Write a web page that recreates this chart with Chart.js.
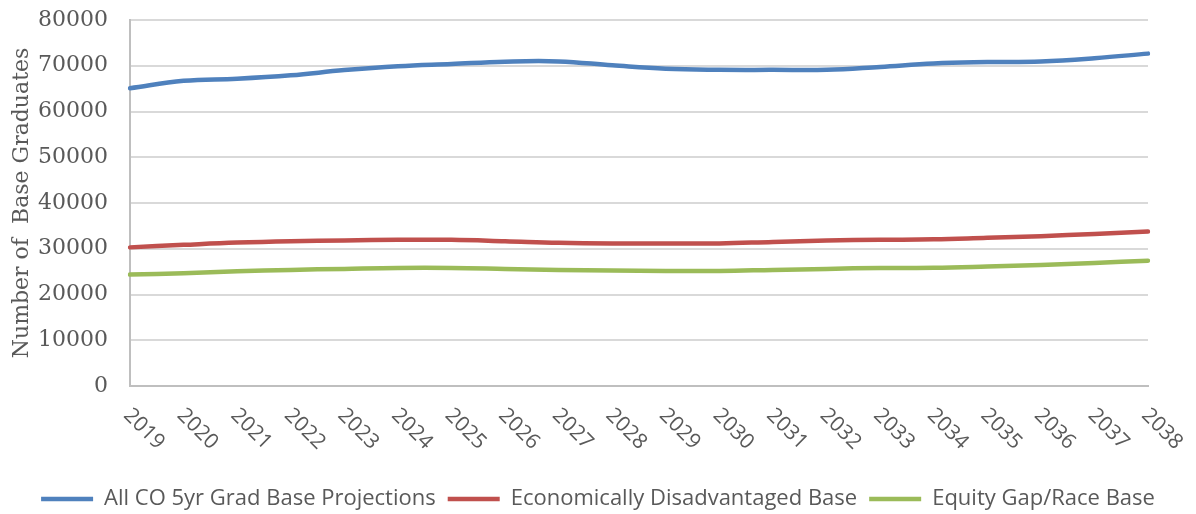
<!DOCTYPE html>
<html>
<head>
<meta charset="utf-8">
<title>Base Graduate Projections</title>
<script src="https://cdn.jsdelivr.net/npm/chart.js@4.4.1/dist/chart.umd.min.js"></script>
<style>
  html, body { margin: 0; padding: 0; background: #ffffff; }
  #wrap { width: 1196px; height: 514px; }
</style>
</head>
<body>
<div id="wrap"><canvas id="chart"></canvas></div>
<script>
// Projection years
const years = ['2019','2020','2021','2022','2023','2024','2025','2026','2027','2028',
               '2029','2030','2031','2032','2033','2034','2035','2036','2037','2038'];

// Base graduate projections by group
const allCO = [65100, 66700, 67150, 67900, 69050, 69900, 70400, 70900, 70950, 70100,
               69350, 69120, 69100, 69100, 69750, 70500, 70800, 70950, 71650, 72650];
const econDisadvantaged = [30300, 30850, 31350, 31650, 31800, 31950, 31950, 31650, 31300, 31150,
                           31150, 31150, 31500, 31800, 31950, 32050, 32400, 32750, 33250, 33750];
const equityGap = [24350, 24650, 25100, 25380, 25600, 25800, 25800, 25600, 25380, 25220,
                   25160, 25160, 25380, 25600, 25800, 25820, 26100, 26450, 26900, 27400];

// Y axis ticks
const yTicks = [0, 10000, 20000, 30000, 40000, 50000, 60000, 70000, 80000];

const seriesNames = ['All CO 5yr Grad Base Projections', 'Economically Disadvantaged Base', 'Equity Gap/Race Base'];
const seriesColors = ['#4F81BD', '#C0504D', '#9BBB59'];
const seriesData = [allCO, econDisadvantaged, equityGap];

const textGrey = '#595959';

// Year labels slanting down to the right from each tick
const yearLabels = {
  id: 'yearLabels',
  afterDraw(chart) {
    const { ctx } = chart;
    const x = chart.scales.x;
    ctx.save();
    ctx.font = '21px "Open Sans"';
    ctx.fillStyle = textGrey;
    ctx.textAlign = 'left';
    ctx.textBaseline = 'middle';
    years.forEach((label, i) => {
      const px = x.getPixelForTick(i);
      ctx.save();
      ctx.translate(px - 3, x.top + 26);
      ctx.rotate(Math.PI / 4);
      ctx.fillText(label, 0, 0);
      ctx.restore();
    });
    ctx.restore();
  }
};

new Chart(document.getElementById('chart'), {
  type: 'line',
  data: {
    labels: years,
    datasets: seriesData.map((d, i) => ({
      label: seriesNames[i],
      data: d,
      borderColor: seriesColors[i],
      backgroundColor: seriesColors[i],
      borderWidth: 4.5,
      borderCapStyle: 'round',
      pointRadius: 0,
      pointHoverRadius: 0,
      tension: 0.4,
      fill: false
    }))
  },
  options: {
    responsive: true,
    maintainAspectRatio: false,
    animation: false,
    events: [],
    layout: { padding: { top: 20, right: 0, left: 0, bottom: -6 } },
    plugins: {
      tooltip: { enabled: false },
      legend: {
        display: true,
        position: 'bottom',
        labels: {
          usePointStyle: true,
          pointStyle: 'line',
          pointStyleWidth: 52,
          padding: 12,
          color: textGrey,
          font: { family: '"Open Sans"', size: 22 }
        }
      }
    },
    scales: {
      x: {
        type: 'category',
        offset: false,
        grid: { display: false, drawTicks: false },
        border: { display: true, color: '#BFBFBF', width: 2 },
        ticks: { display: false },
        afterFit(scale) {
          scale.height = 90;
          // room to the right of the plot, leaving the legend centred on the page
          scale.paddingRight = 48;
        }
      },
      y: {
        min: 0,
        max: 80000,
        afterBuildTicks(scale) { scale.ticks = yTicks.map(v => ({ value: v })); },
        grid: { color: '#D9D9D9', lineWidth: 2, drawTicks: false },
        border: { display: true, color: '#BFBFBF', width: 2 },
        ticks: {
          padding: 22,
          color: textGrey,
          font: { family: '"DejaVu Serif"', size: 22 },
          callback: v => String(v)
        },
        title: {
          display: true,
          text: 'Number of  Base Graduates',
          color: textGrey,
          font: { family: '"DejaVu Serif"', size: 22 },
          padding: { top: 9, bottom: 0 }
        },
        afterFit(scale) {
          scale.width = 130;
          scale.paddingTop = 0;
          scale.paddingBottom = 0;
        }
      }
    }
  },
  plugins: [yearLabels]
});
</script>
</body>
</html>
